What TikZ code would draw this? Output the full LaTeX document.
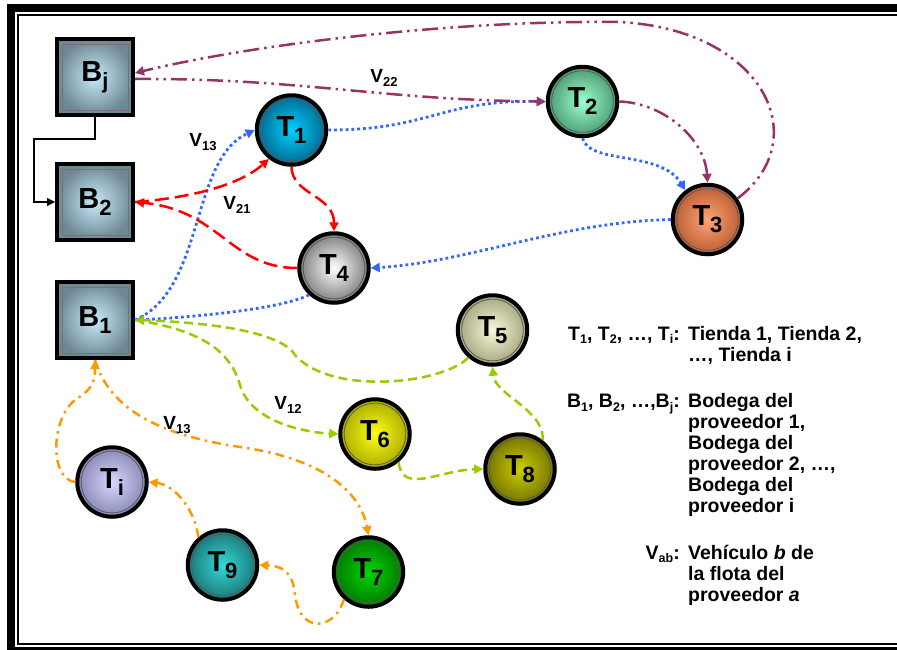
\documentclass[tikz,border=0pt]{standalone}
\usepackage{fontspec}
\setmainfont{Liberation Sans}
\usetikzlibrary{arrows.meta}
% colours of the routes
\definecolor{morado}{RGB}{153,51,102}
\definecolor{azul}{RGB}{51,102,255}
\definecolor{rojo}{RGB}{255,0,0}
\definecolor{verde}{RGB}{153,204,0}
\definecolor{naranja}{RGB}{255,153,0}
% colours of the nodes
\definecolor{boxin}{RGB}{200,234,250}
\definecolor{boxout}{RGB}{110,136,148}
\definecolor{tin1}{RGB}{0,208,255}\definecolor{tout1}{RGB}{0,105,145}
\definecolor{tin2}{RGB}{155,255,205}\definecolor{tout2}{RGB}{75,155,115}
\definecolor{tin3}{RGB}{255,165,115}\definecolor{tout3}{RGB}{185,92,52}
\definecolor{tin4}{RGB}{255,255,255}\definecolor{tout4}{RGB}{125,125,125}
\definecolor{tin5}{RGB}{250,250,220}\definecolor{tout5}{RGB}{165,165,125}
\definecolor{tin6}{RGB}{255,255,20}\definecolor{tout6}{RGB}{170,170,0}
\definecolor{tin7}{RGB}{0,215,0}\definecolor{tout7}{RGB}{0,120,0}
\definecolor{tin8}{RGB}{205,205,0}\definecolor{tout8}{RGB}{115,115,0}
\definecolor{tin9}{RGB}{55,215,215}\definecolor{tout9}{RGB}{25,120,120}
\definecolor{tini}{RGB}{215,215,255}\definecolor{touti}{RGB}{135,135,180}
\newcommand{\nsub}[1]{\raisebox{-7pt}{\fontsize{22}{22}\selectfont #1}}
\newcommand{\vsub}[1]{\raisebox{-4pt}{\fontsize{13}{13}\selectfont #1}}
\newcommand{\lsub}[1]{\raisebox{-3.5pt}{\fontsize{12.5}{12.5}\selectfont #1}}

\tikzset{
  bodega/.style={rectangle, minimum size=76pt, inner sep=0pt, outer sep=2pt,
    draw=black, line width=4pt, inner color=boxin, outer color=boxout,
    font=\fontsize{29}{29}\selectfont\bfseries,
    path picture={\draw[line width=1pt, black!55]
      ([shift={(5pt,5pt)}]path picture bounding box.south west) rectangle
      ([shift={(-5pt,-5pt)}]path picture bounding box.north east);}},
  tienda/.style={circle, minimum size=69.5pt, inner sep=0pt, outer sep=2pt,
    draw=black, line width=4pt, font=\fontsize{29}{29}\selectfont\bfseries,
    path picture={\draw[line width=0.8pt, black!65]
      (path picture bounding box.center) circle[radius=30.8pt];}},
  flecha/.style={-{Triangle[length=9pt,width=9pt]}},
  ruta morada/.style={flecha, morado, line width=2.5pt,
    dash pattern=on 16pt off 5pt on 2.5pt off 5pt on 2.5pt off 5pt},
  ruta azul/.style={flecha, azul, line width=2.8pt, dash pattern=on 2.8pt off 3pt},
  ruta roja/.style={flecha, rojo, line width=2.5pt, dash pattern=on 14pt off 6pt},
  ruta verde/.style={flecha, verde, line width=2.5pt, dash pattern=on 9pt off 5pt},
  ruta naranja/.style={flecha, naranja, line width=2.5pt,
    dash pattern=on 9pt off 5pt on 2.5pt off 5pt},
  vlabel/.style={font=\fontsize{19}{19}\selectfont\bfseries, inner sep=0pt},
  leyenda/.style={font=\fontsize{19.5}{21}\selectfont\bfseries, inner sep=0pt},
}

\begin{document}
\begin{tikzpicture}[x=1pt, y=-1pt]
  \useasboundingbox (0,0) rectangle (897,649);
  % --- Frame ---
  \draw[line width=8pt] (11,8) rectangle (905,651);
  \draw[line width=2.2pt] (18,15) rectangle (901,644);

  % --- Bodegas ---
  \node[bodega] (bodj) at (95,77)  {B\nsub{j}};
  \node[bodega] (bod2) at (95,202) {B\nsub{2}};
  \node[bodega] (bod1) at (95,320) {B\nsub{1}};

  % --- Tiendas ---
  \foreach \nm/\px/\py/\sb/\ci/\co in {
      t1/291.5/130/1/tin1/tout1, t2/582.5/101.5/2/tin2/tout2,
      t3/707.5/219.5/3/tin3/tout3, t4/334/268/4/tin4/tout4,
      t5/492.5/330/5/tin5/tout5, t6/375/434/6/tin6/tout6,
      t7/368.5/572/7/tin7/tout7, t8/520/469/8/tin8/tout8,
      t9/222.5/565/9/tin9/tout9, ti/112/482/i/tini/touti}
    \node[tienda, inner color=\ci, outer color=\co] (\nm) at (\px,\py) {T\nsub{\sb}};

  % Bj to B2
  \coordinate (jbend) at (34,139);
  \draw[-{Triangle[length=8pt,width=8pt]}, line width=1.3pt]
    (bodj.south) |- (jbend) |- (bod2.west);

  % --- Route V13 (blue) ---
  \draw[ruta azul] (bod1.east) .. controls (205,290) and (190,160) .. (t1.west);
  \draw[ruta azul] (t1.east) .. controls (430,130) and (440,100) .. (t2.west);
  \draw[ruta azul] (t2.south) .. controls (590,165) and (660,150) .. (t3.127);
  \draw[ruta azul] (t3.west) .. controls (560,222) and (470,262) .. (t4.east);
  \draw[ruta azul] (t4.227) .. controls (280,310) and (180,318) .. (bod1.east);

  % --- Route V21 (red) ---
  \draw[ruta roja] (bod2.east) .. controls (190,198) and (240,185) .. (t1.232);
  \draw[ruta roja] (t1.south) .. controls (292,195) and (334,195) .. (t4.north);
  \draw[ruta roja] (t4.west) .. controls (230,268) and (220,210) .. (bod2.east);

  % --- Route V12 (green) ---
  \draw[ruta verde] (bod1.east) .. controls (200,330) and (230,350) .. (240,385)
    .. controls (250,420) and (300,432) .. (t6.west);
  \draw[ruta verde] (t6.-50) .. controls (402,495) and (440,470) .. (t8.west);
  \draw[ruta verde] (t8.52) .. controls (545,410) and (495,395) .. (t5.south);
  \draw[ruta verde] (t5.229) .. controls (440,385) and (330,395) .. (295,355)
    .. controls (280,330) and (200,322) .. (bod1.east);

  % --- Route V13 (orange) ---
  \draw[ruta naranja] (bod1.south) .. controls (110,410) and (160,435) .. (240,447)
    .. controls (320,458) and (360,490) .. (t7.north);
  \draw[ruta naranja] (t7.228) .. controls (335,630) and (300,635) .. (295,595)
    .. controls (293,570) and (280,566) .. (t9.east);
  \draw[ruta naranja] (t9.131) .. controls (195,510) and (175,485) .. (ti.east);
  \draw[ruta naranja] (ti.west) .. controls (50,480) and (50,420) .. (75,400)
    .. controls (90,390) and (95,385) .. (bod1.south);

  % --- Route V22 (purple) ---
  \draw[ruta morada] ([yshift=-2pt]bodj.east) .. controls (300,78) and (380,100) .. (t2.west);
  \draw[ruta morada] (t2.east) .. controls (665,103) and (705,140) .. (t3.north);
  \draw[ruta morada] (t3.35) .. controls (815,140) and (765,30) .. (620,22)
    .. controls (450,20) and (250,45) .. ([yshift=4pt]bodj.east);

  % vehicle labels
  \node[vlabel] (v22) at (384,78)  {V\vsub{22}};
  \node[vlabel] (v13a) at (203,142) {V\vsub{13}};
  \node[vlabel] (v21) at (237,205) {V\vsub{21}};
  \node[vlabel] (v12) at (288,405) {V\vsub{12}};
  \node[vlabel] (v13b) at (177,425) {V\vsub{13}};

  % --- Legend ---
  \node[leyenda, anchor=base east] (keyt) at (680,340)
    {T\lsub{1}, T\lsub{2}, …, T\lsub{i}:};
  \node[leyenda, anchor=base west] (txtt) at (688,340)
    {\begin{tabular}[t]{@{}l@{}}Tienda 1, Tienda 2,\\…, Tienda i\end{tabular}};
  \node[leyenda, anchor=base east] (keyb) at (680,407.5)
    {B\lsub{1}, B\lsub{2}, …,B\lsub{j}:};
  \node[leyenda, anchor=base west] (txtb) at (688,407.5)
    {\begin{tabular}[t]{@{}l@{}}Bodega del\\proveedor 1,\\Bodega del\\proveedor 2, …,\\Bodega del\\proveedor i\end{tabular}};
  \node[leyenda, anchor=base east] (keyv) at (680,559)
    {V\lsub{ab}:};
  \node[leyenda, anchor=base west] (txtv) at (688,559)
    {\begin{tabular}[t]{@{}l@{}}Vehículo \textit{b} de\\la flota del\\proveedor \textit{a}\end{tabular}};
\end{tikzpicture}
\end{document}
